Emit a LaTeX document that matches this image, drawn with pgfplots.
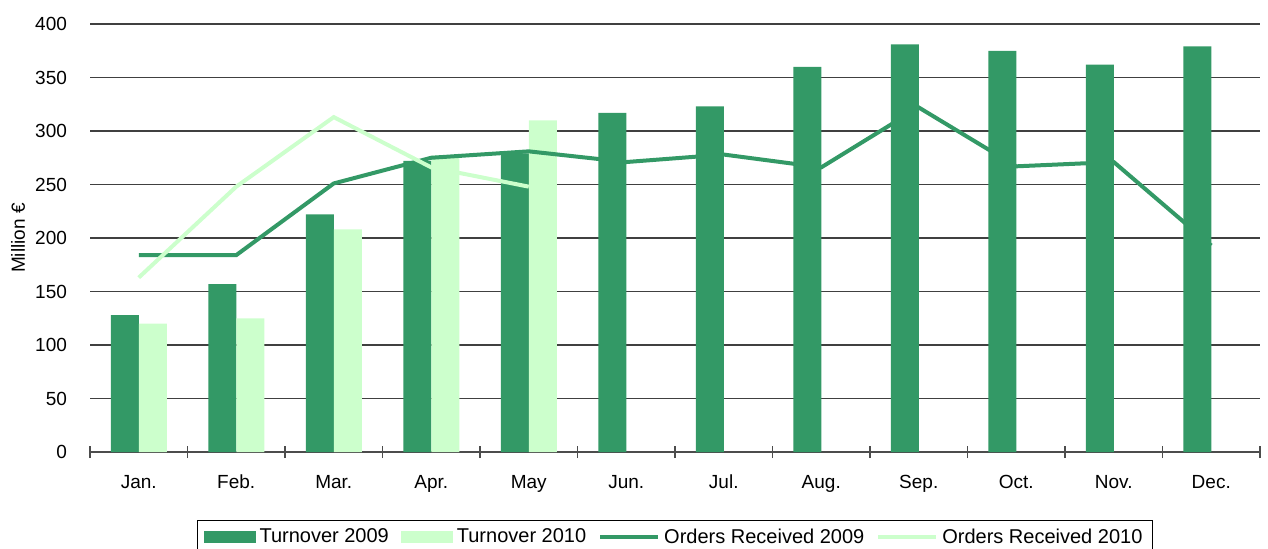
\documentclass[border=0pt]{standalone}
\usepackage{fontspec}
\setmainfont{Liberation Sans}
\usepackage{pgfplots}
\pgfplotsset{compat=1.18}
\definecolor{darkgreen}{HTML}{339966}
\definecolor{lightgreen}{HTML}{CCFFCC}

\begin{document}
\begin{tikzpicture}
\begin{axis}[
  scale only axis, width=585pt, height=214pt,
  /pgf/number format/assume math mode=true,
  font=\fontsize{9.5}{11}\selectfont,
  xmin=-0.5, xmax=11.5, ymin=0, ymax=400,
  ytick={0,50,...,400},
  xtick={-0.5,0.5,...,11.5},
  xticklabels={Jan.,Feb.,Mar.,Apr.,May,Jun.,Jul.,Aug.,Sep.,Oct.,Nov.,Dec.},
  x tick label as interval,
  xticklabel style={yshift=-5pt},
  yticklabel style={xshift=-5pt},
  ytick style={draw=none},
  xtick style={black!70, line width=0.6pt},
  major tick length=6pt, tick align=center,
  axis x line*=bottom, axis y line*=left,
  x axis line style={black!70, line width=0.6pt},
  y axis line style={draw=none},
  ymajorgrids, grid style={black!75, line width=0.6pt},
  ylabel={Million €},
  y label style={at={(axis description cs:-0.0615,0.5)}, anchor=center},
  legend columns=4,
  legend style={at={(0.5,-0.159)}, anchor=north, draw=black, line width=0.6pt,
    font=\fontsize{10}{12}\selectfont,
    /tikz/every even column/.append style={column sep=4pt}},
]
\addplot[ybar, bar width=14pt, bar shift=-7pt, fill=darkgreen, draw=none,
  legend image code/.code={\fill[darkgreen] (0pt,-3pt) rectangle (26pt,3pt);}]
  coordinates {(0,128) (1,157) (2,222) (3,272) (4,279) (5,317)
               (6,323) (7,360) (8,381) (9,375) (10,362) (11,379)};
\addlegendentry{Turnover 2009}
\addplot[ybar, bar width=14pt, bar shift=7pt, fill=lightgreen, draw=none,
  legend image code/.code={\fill[lightgreen] (0pt,-3pt) rectangle (26pt,3pt);}]
  coordinates {(0,120) (1,125) (2,208) (3,277) (4,310)};
\addlegendentry{Turnover 2010}
\addplot[sharp plot, no marks, darkgreen, line width=2pt,
  legend image code/.code={\draw[darkgreen, line width=2pt] (0pt,0pt) -- (29pt,0pt);}]
  coordinates {(0,184) (1,184) (2,251) (3,275) (4,281) (5,271)
               (6,278) (7,266) (8,322) (9,267) (10,271) (11,193)};
\addlegendentry{Orders Received 2009}
\addplot[sharp plot, no marks, lightgreen, line width=2pt,
  legend image code/.code={\draw[lightgreen, line width=2pt] (0pt,0pt) -- (29pt,0pt);}]
  coordinates {(0,163) (1,248) (2,313) (3,266) (4,248)};
\addlegendentry{Orders Received 2010}
\coordinate (O) at (rel axis cs:0,0);
\end{axis}
\pgfresetboundingbox
\path[use as bounding box] ([shift={(-45pt,-48pt)}]O) rectangle ([shift={(589pt,226pt)}]O);
\end{tikzpicture}
\end{document}
